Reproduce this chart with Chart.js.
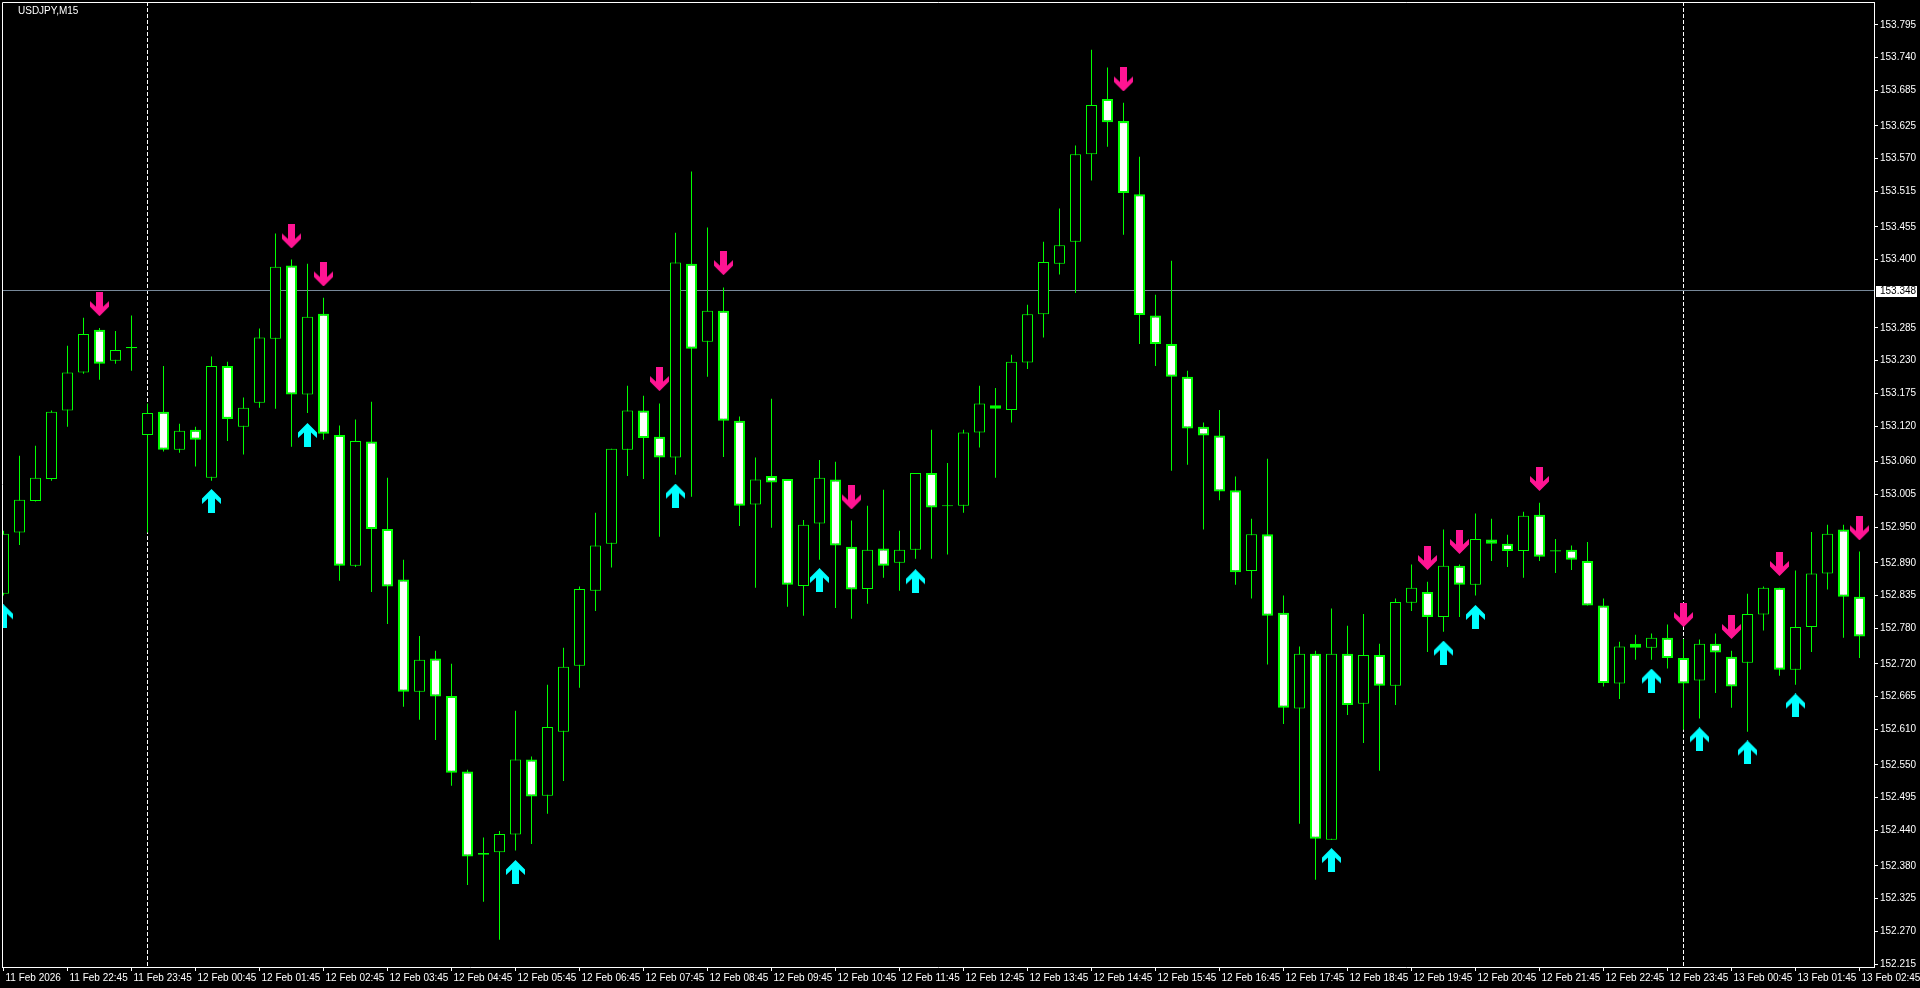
<!DOCTYPE html>
<html>
<head>
<meta charset="utf-8">
<title>USDJPY,M15</title>
<script src="https://cdn.jsdelivr.net/npm/chart.js@4.4.1/dist/chart.umd.min.js"></script>
<style>
    html, body { margin: 0; padding: 0; background: #000; overflow: hidden; }
    #caja { position: relative; width: 1920px; height: 988px; }
    #titulo { position: absolute; left: 18px; top: 5px; color: #fff; font: 10px "Liberation Sans", Arial, sans-serif; }
</style>
</head>
<body>
<div id="caja">
    <canvas id="estadistica1" width="1920" height="988"></canvas>
    <div id="titulo">USDJPY,M15</div>
</div>
<script>
// velas M15, desde 11 Feb 21:45 hasta 13 Feb 02:45
const opens = [152.838, 152.941, 152.994, 153.031, 153.146, 153.210, 153.282, 153.230, 153.251, 153.105,
    153.144, 153.080, 153.114, 153.033, 153.221, 153.119, 153.159, 153.267, 153.390, 153.173,
    153.309, 153.105, 152.885, 153.094, 152.947, 152.862, 152.673, 152.729, 152.666, 152.539,
    152.402, 152.403, 152.433, 152.559, 152.498, 152.606, 152.717, 152.843, 152.922, 153.080,
    153.146, 153.102, 153.067, 153.393, 153.262, 153.314, 153.129, 152.988, 153.036, 153.031,
    152.851, 152.956, 153.030, 152.917, 152.846, 152.914, 152.890, 152.912, 153.041, 152.985,
    152.986, 153.109, 153.155, 153.147, 153.227, 153.308, 153.393, 153.430, 153.577, 153.670,
    153.633, 153.510, 153.306, 153.258, 153.203, 153.119, 153.104, 153.012, 152.876, 152.938,
    152.806, 152.645, 152.737, 152.424, 152.737, 152.653, 152.735, 152.683, 152.823, 152.841,
    152.799, 152.885, 152.853, 152.929, 152.922, 152.910, 152.971, 152.911, 152.912, 152.893,
    152.818, 152.687, 152.754, 152.747, 152.764, 152.730, 152.692, 152.754, 152.732, 152.722,
    152.803, 152.848, 152.710, 152.782, 152.872, 152.946, 152.833];
const highs = [152.944, 153.070, 153.087, 153.146, 153.255, 153.302, 153.285, 153.280, 153.306, 153.158,
    153.221, 153.124, 153.119, 153.237, 153.228, 153.168, 153.284, 153.444, 153.400, 153.393,
    153.336, 153.121, 153.131, 153.161, 153.033, 152.895, 152.767, 152.742, 152.720, 152.542,
    152.428, 152.439, 152.641, 152.564, 152.685, 152.747, 152.850, 152.974, 153.082, 153.188,
    153.171, 153.158, 153.445, 153.548, 153.454, 153.353, 153.136, 153.067, 153.166, 153.031,
    152.962, 153.063, 153.060, 152.961, 152.986, 153.013, 152.944, 153.041, 153.114, 153.058,
    153.114, 153.188, 153.184, 153.240, 153.324, 153.430, 153.486, 153.592, 153.753, 153.723,
    153.664, 153.573, 153.341, 153.398, 153.213, 153.126, 153.147, 153.035, 152.964, 153.065,
    152.835, 152.749, 152.742, 152.813, 152.784, 152.804, 152.754, 152.830, 152.887, 152.858,
    152.946, 152.887, 152.973, 152.964, 152.937, 152.976, 152.991, 152.930, 152.919, 152.925,
    152.830, 152.757, 152.769, 152.771, 152.786, 152.762, 152.761, 152.771, 152.742, 152.838,
    152.850, 152.848, 152.877, 152.942, 152.954, 152.954, 152.909];
const lows = [152.835, 152.920, 152.993, 153.028, 153.119, 153.208, 153.198, 153.225, 153.213, 152.941,
    153.077, 153.075, 153.052, 153.028, 153.095, 153.072, 153.151, 153.149, 153.085, 153.142,
    153.097, 152.860, 152.883, 152.841, 152.787, 152.648, 152.626, 152.592, 152.515, 152.348,
    152.320, 152.256, 152.406, 152.417, 152.468, 152.523, 152.680, 152.809, 152.882, 153.036,
    153.031, 152.934, 153.038, 153.001, 153.203, 153.068, 152.952, 152.848, 152.949, 152.816,
    152.801, 152.895, 152.814, 152.796, 152.821, 152.865, 152.843, 152.897, 152.897, 152.904,
    152.974, 153.084, 153.033, 153.126, 153.216, 153.269, 153.375, 153.344, 153.533, 153.590,
    153.442, 153.258, 153.221, 153.045, 153.055, 152.946, 152.995, 152.853, 152.830, 152.719,
    152.619, 152.451, 152.357, 152.424, 152.634, 152.587, 152.540, 152.651, 152.809, 152.740,
    152.774, 152.799, 152.835, 152.893, 152.883, 152.865, 152.893, 152.873, 152.878, 152.818,
    152.682, 152.661, 152.727, 152.727, 152.712, 152.609, 152.628, 152.671, 152.646, 152.606,
    152.776, 152.700, 152.685, 152.740, 152.845, 152.764, 152.730];
const closes = [152.939, 152.996, 153.033, 153.144, 153.210, 153.275, 153.225, 153.248, 153.253, 153.142,
    153.080, 153.112, 153.097, 153.221, 153.132, 153.151, 153.269, 153.388, 153.173, 153.304,
    153.107, 152.885, 153.095, 152.947, 152.850, 152.673, 152.727, 152.665, 152.537, 152.396,
    152.399, 152.434, 152.559, 152.497, 152.614, 152.715, 152.846, 152.919, 153.082, 153.146,
    153.100, 153.067, 153.395, 153.250, 153.314, 153.129, 152.986, 153.030, 153.025, 152.853,
    152.954, 153.033, 152.919, 152.845, 152.912, 152.885, 152.912, 153.041, 152.983, 152.987,
    153.109, 153.158, 153.149, 153.228, 153.308, 153.396, 153.424, 153.577, 153.660, 153.631,
    153.512, 153.307, 153.258, 153.203, 153.116, 153.104, 153.010, 152.874, 152.938, 152.801,
    152.646, 152.737, 152.426, 152.737, 152.651, 152.735, 152.683, 152.824, 152.848, 152.799,
    152.885, 152.853, 152.930, 152.922, 152.910, 152.969, 152.900, 152.909, 152.895, 152.818,
    152.688, 152.749, 152.747, 152.764, 152.730, 152.687, 152.754, 152.739, 152.682, 152.804,
    152.848, 152.710, 152.782, 152.872, 152.939, 152.833, 152.766];

// flechas del indicador (indice de vela, precio)
const upIdx = [0, 13, 19, 32, 42, 51, 57, 83, 90, 92, 103, 106, 109, 112];
const upPrice = [152.800, 152.994, 153.105, 152.370, 153.003, 152.861, 152.859, 152.390, 152.739, 152.799, 152.692, 152.593, 152.571, 152.650];
const dnIdx = [6, 18, 20, 41, 45, 53, 70, 89, 91, 96, 105, 108, 111, 116];
const dnPrice = [153.325, 153.439, 153.375, 153.199, 153.394, 153.000, 153.703, 152.898, 152.925, 153.031, 152.802, 152.782, 152.888, 152.948];

const separadores = [9, 105];
const precioLinea = 153.348;

const xTickIdx = [0, 4, 8, 12, 16, 20, 24, 28, 32, 36, 40, 44, 48, 52, 56, 60, 64, 68, 72, 76, 80, 84, 88, 92, 96, 100, 104, 108, 112, 116];
const xTickLabels = ['11 Feb 2026', '11 Feb 22:45', '11 Feb 23:45', '12 Feb 00:45', '12 Feb 01:45', '12 Feb 02:45',
    '12 Feb 03:45', '12 Feb 04:45', '12 Feb 05:45', '12 Feb 06:45', '12 Feb 07:45', '12 Feb 08:45', '12 Feb 09:45',
    '12 Feb 10:45', '12 Feb 11:45', '12 Feb 12:45', '12 Feb 13:45', '12 Feb 14:45', '12 Feb 15:45', '12 Feb 16:45',
    '12 Feb 17:45', '12 Feb 18:45', '12 Feb 19:45', '12 Feb 20:45', '12 Feb 21:45', '12 Feb 22:45', '12 Feb 23:45',
    '13 Feb 00:45', '13 Feb 01:45', '13 Feb 02:45'];
const yTicks = [153.795, 153.740, 153.685, 153.625, 153.570, 153.515, 153.455, 153.400, 153.285, 153.230,
    153.175, 153.120, 153.060, 153.005, 152.950, 152.890, 152.835, 152.780, 152.720, 152.665, 152.610,
    152.550, 152.495, 152.440, 152.380, 152.325, 152.270, 152.215];

const xMin = -0.09375, xMax = 116.90625;
const yMax = 153.8333, yMin = 152.2101;

const fuente = { family: '"Liberation Sans", Arial, sans-serif', size: 10 };

function flecha(color, arriba) {
    const c = document.createElement('canvas');
    c.width = 19;
    c.height = 24;
    const g = c.getContext('2d');
    if (!arriba) {
        g.translate(0, 24);
        g.scale(1, -1);
    }
    g.fillStyle = color;
    g.beginPath();
    g.moveTo(9.5, 0);
    g.lineTo(19, 9.5);
    g.lineTo(19, 15);
    g.lineTo(13, 9.5);
    g.lineTo(13, 24);
    g.lineTo(6, 24);
    g.lineTo(6, 9.5);
    g.lineTo(0, 15);
    g.lineTo(0, 9.5);
    g.closePath();
    g.fill();
    return c;
}

const marco = {
    id: 'marco',
    afterDraw(chart) {
        const a = chart.chartArea;
        const c = chart.ctx;
        c.save();
        c.strokeStyle = '#ffffff';
        c.lineWidth = 1;
        c.beginPath();
        c.moveTo(a.left + 0.5, a.bottom);
        c.lineTo(a.left + 0.5, a.top + 0.5);
        c.lineTo(a.right, a.top + 0.5);
        c.stroke();

        // etiqueta del precio
        const y = Math.round(chart.scales.y.getPixelForValue(precioLinea));
        c.fillStyle = '#ffffff';
        c.fillRect(a.right + 2, y - 5, 41, 11);
        c.fillStyle = '#000000';
        c.font = '10px "Liberation Sans", Arial, sans-serif';
        c.textBaseline = 'middle';
        c.fillText(precioLinea.toFixed(3), a.right + 6, y + 0.5);
        c.restore();
    }
};

let chart1;
function grafico1() {
    const ctx = document.getElementById('estadistica1');

    let velas = [];
    let mechas = [];
    let colores = [];
    let bordes = [];
    opens.forEach((o, i) => {
        velas.push({ x: i, y: [o, closes[i]] });
        mechas.push({ x: i, y: [lows[i], highs[i]] });
        colores.push(closes[i] >= o ? '#000000' : '#ffffff');
        bordes.push(closes[i] >= o ? 1 : 2);
    });

    let datasets = [
        {
            type: 'line', data: upIdx.map((x, k) => ({ x: x, y: upPrice[k] })), borderWidth: 0,
            showLine: false, pointStyle: flecha('#00ffff', true), pointRadius: 0.2, pointBorderWidth: 0, order: 0
        },
        {
            type: 'line', data: dnIdx.map((x, k) => ({ x: x, y: dnPrice[k] })), borderWidth: 0,
            showLine: false, pointStyle: flecha('#ff1493', false), pointRadius: 0.2, pointBorderWidth: 0, order: 0
        },
        {
            type: 'bar', data: velas, backgroundColor: colores, borderColor: '#00ff00',
            borderWidth: bordes, borderSkipped: false, barThickness: 11, grouped: false, inflateAmount: 0, order: 1
        },
        {
            type: 'bar', data: mechas, backgroundColor: '#00ff00', borderWidth: 0,
            barThickness: 1, grouped: false, inflateAmount: 0, order: 2
        },
        {
            type: 'line', data: [{ x: xMin, y: precioLinea }, { x: xMax, y: precioLinea }],
            borderColor: '#778899', borderWidth: 1, pointRadius: 0, pointBorderWidth: 0, order: 3
        }
    ];
    separadores.forEach(s => {
        datasets.push({
            type: 'line', data: [{ x: s, y: yMax }, { x: s, y: yMin }],
            borderColor: '#ffffff', borderWidth: 1, borderDash: [4, 2], pointRadius: 0, pointBorderWidth: 0, order: 4
        });
    });

    chart1 = new Chart(ctx, {
        type: 'bar',
        data: { datasets: datasets },
        options: {
            responsive: false,
            animation: false,
            events: [],
            layout: { autoPadding: false, padding: { left: 2, top: 2, right: 0, bottom: 0 } },
            plugins: { legend: { display: false }, tooltip: { enabled: false } },
            scales: {
                x: {
                    type: 'linear', position: 'bottom', min: xMin, max: xMax, bounds: 'data', offset: false,
                    afterBuildTicks: s => { s.ticks = xTickIdx.map(v => ({ value: v })); },
                    afterFit: s => { s.height = 21; s.paddingLeft = 0; s.paddingRight = 0; },
                    grid: { offset: false, drawOnChartArea: false, drawTicks: true, tickLength: 4, color: '#ffffff' },
                    border: { display: true, color: '#ffffff', width: 1 },
                    ticks: {
                        autoSkip: false, maxRotation: 0, minRotation: 0, align: 'start', labelOffset: 2,
                        padding: 1, color: '#ffffff', font: fuente,
                        callback: (v, k) => xTickLabels[k]
                    }
                },
                y: {
                    type: 'linear', position: 'right', min: yMin, max: yMax, bounds: 'data', beginAtZero: false,
                    afterBuildTicks: s => { s.ticks = yTicks.map(v => ({ value: v })); },
                    afterFit: s => { s.width = 46; s.paddingTop = 0; s.paddingBottom = 0; },
                    grid: { drawOnChartArea: false, drawTicks: true, tickLength: 4, color: '#ffffff' },
                    border: { display: true, color: '#ffffff', width: 1 },
                    ticks: {
                        autoSkip: false, padding: 2, color: '#ffffff', font: fuente,
                        callback: v => v.toFixed(3)
                    }
                }
            }
        },
        plugins: [marco]
    });
}

grafico1();
</script>
</body>
</html>
